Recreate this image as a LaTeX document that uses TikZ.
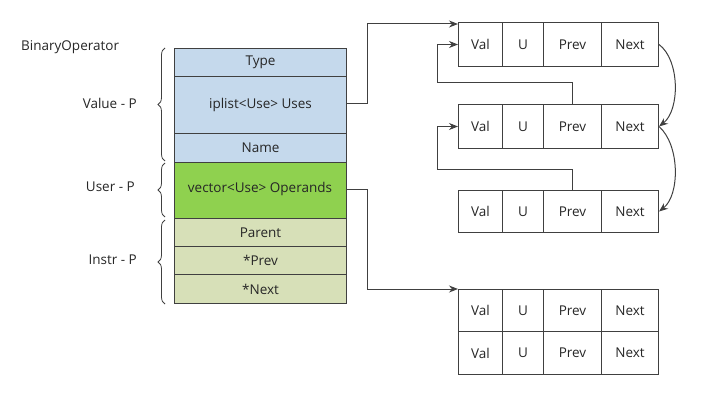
\documentclass[tikz,border=0pt]{standalone}
\usepackage{fontspec}
\setmainfont{Open Sans}
\usetikzlibrary{arrows.meta,decorations.pathreplacing}
\definecolor{lblue}{HTML}{C5D9EC}
\definecolor{lgreen}{HTML}{8FD14F}
\definecolor{khaki}{HTML}{D7E0B8}
\definecolor{ln}{HTML}{404040}
\definecolor{txt}{HTML}{262626}
\begin{document}
\begin{tikzpicture}[x=1pt,y=-1pt,
  font=\fontsize{13.5}{15}\selectfont, text=txt,
  field/.style={draw=ln,line width=1pt,minimum width=172pt,inner sep=0pt,anchor=north west},
  cell/.style={draw=ln,line width=1pt,inner sep=0pt,anchor=north west},
  conn/.style={draw=ln,line width=1pt},
  arr/.style={conn,-{Stealth[length=9pt,width=7pt]}},
  brc/.style={draw=ln,line width=0.8pt,decoration={brace,amplitude=7pt},decorate},
  lab/.style={anchor=east,inner sep=0pt}]
\useasboundingbox (0,0) rectangle (727,406);
% left structure
\node[field,fill=lblue,minimum height=28pt] (type) at (174,48) {Type};
\node[field,fill=lblue,minimum height=57pt] (uses) at (174,76) {iplist<Use> Uses};
\node[field,fill=lblue,minimum height=29pt] (name) at (174,133) {Name};
\node[field,fill=lgreen,minimum height=56pt] (ops) at (174,162) {};
\node (opst) at (260,189) {vector<Use> Operands};
\node[field,fill=khaki,minimum height=28pt] (parent) at (174,218) {Parent};
\node[field,fill=khaki,minimum height=28pt] (prev) at (174,246) {*Prev};
\node[field,fill=khaki,minimum height=29pt] (next) at (174,274) {*Next};
% braces
\draw[brc] (165,161) -- (165,48);
\draw[brc] (165,217) -- (165,163);
\draw[brc] (165,304) -- (165,220);
\node[anchor=west,inner sep=0pt] (bop) at (21,47) {BinaryOperator};
\node[lab] (valp) at (137,103) {Value - P};
\node[lab] (userp) at (135,187) {User - P};
\node[lab] (instrp) at (137,260) {Instr - P};
% right boxes
\foreach \r/\y/\h in {a/22/44,b/104/44,c/190/42,d/289/42,e/331/43}{
  \node[cell,minimum width=44pt,minimum height=\h pt] (\r1) at (458,\y) {Val};
  \node[cell,minimum width=41pt,minimum height=\h pt] (\r2) at (502,\y) {U};
  \node[cell,minimum width=58pt,minimum height=\h pt] (\r3) at (543,\y) {Prev};
  \node[cell,minimum width=57pt,minimum height=\h pt] (\r4) at (601,\y) {Next};
}
% connectors
\coordinate (j1) at (367,104);
\draw[arr] (uses.east |- j1) -| (367,24) -- (a1.north west |- 0,24);
\draw[arr] (b3.north) |- (437,83) |- (a1.west);
\draw[arr] (c3.north) |- (437,169) |- (b1.west);
\draw[arr] (ops.east |- opst) -| (367,289) -- (d1.north west);
\draw[arr] (a4.east) .. controls (680,60) and (680,110) .. (b4.east);
\draw[arr] (b4.east) .. controls (680,145) and (680,195) .. (c4.east);
\end{tikzpicture}
\end{document}
